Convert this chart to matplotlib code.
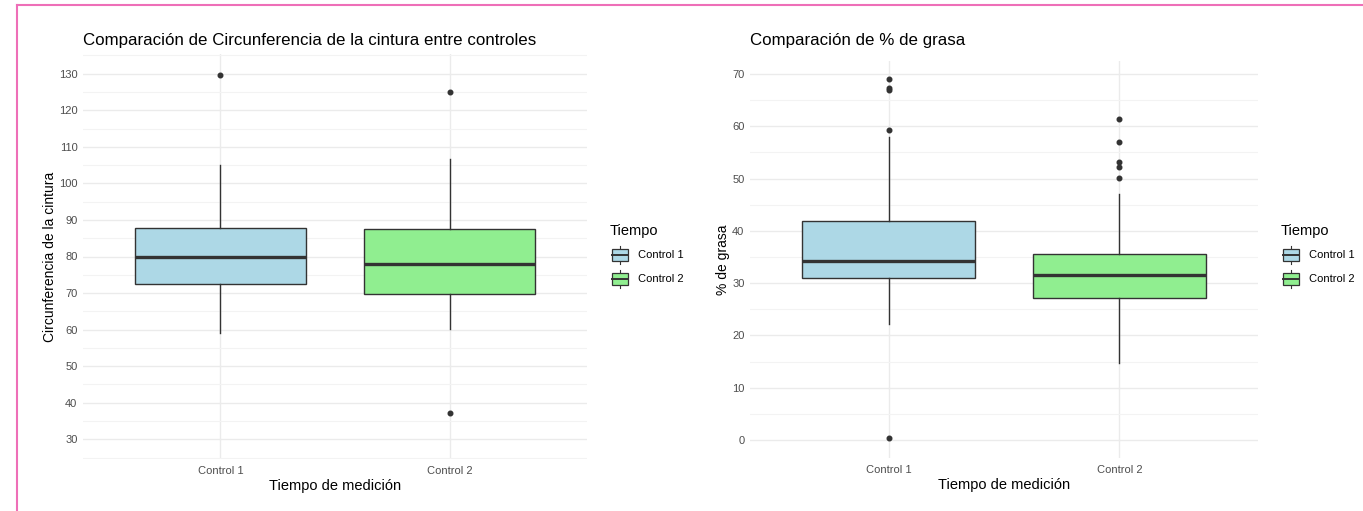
import matplotlib
matplotlib.use("Agg")
import matplotlib.pyplot as plt
from matplotlib.patches import Rectangle
from matplotlib.lines import Line2D

plt.rcParams['font.family'] = ['Liberation Sans', 'DejaVu Sans']

# ---- data -------------------------------------------------------------
groups = ["Control 1", "Control 2"]
fill_colors = ["#ADD8E6", "#90EE90"]

# Circunferencia de la cintura
cintura_q1 = [72.4, 69.8]
cintura_med = [80.0, 78.0]
cintura_q3 = [87.7, 87.5]
cintura_whislo = [59.0, 60.1]
cintura_whishi = [105.1, 106.7]
cintura_outliers = [[129.7], [125.0, 37.3]]

# % de grasa
grasa_q1 = [31.0, 27.1]
grasa_med = [34.3, 31.6]
grasa_q3 = [41.9, 35.5]
grasa_whislo = [22.2, 14.7]
grasa_whishi = [57.9, 47.1]
grasa_outliers = [[69.0, 67.4, 67.0, 59.3, 0.3], [61.4, 57.0, 53.1, 52.3, 50.2]]

W, H = 1363, 511
fig = plt.figure(figsize=(W / 100, H / 100), dpi=100)
fig.patch.set_facecolor("white")

EDGE = "#333333"
GRID = "#EBEBEB"
TICK = "#4D4D4D"


def px_axes(x0, y0, x1, y1):
    return fig.add_axes([x0 / W, 1 - y1 / H, (x1 - x0) / W, (y1 - y0) / H])


def draw_panel(ax, q1, med, q3, lo, hi, outl, ylim, yticks, minor, ylabel):
    stats = []
    for i in range(len(groups)):
        stats.append(dict(med=med[i], q1=q1[i], q3=q3[i],
                          whislo=lo[i], whishi=hi[i], fliers=outl[i]))
    bp = ax.bxp(stats, positions=[1, 2], widths=0.75, patch_artist=True,
                showcaps=False,
                boxprops=dict(edgecolor=EDGE, linewidth=1.0),
                whiskerprops=dict(color=EDGE, linewidth=1.0),
                medianprops=dict(color=EDGE, linewidth=2.4, solid_capstyle="butt"),
                flierprops=dict(marker="o", markerfacecolor=EDGE,
                                markeredgecolor=EDGE, markersize=3.3))
    for patch, c in zip(bp["boxes"], fill_colors):
        patch.set_facecolor(c)
    for k, art in bp.items():
        for a in art:
            a.set_zorder(3)
    ax.set_xlim(0.4, 2.6)
    ax.set_ylim(*ylim)
    ax.set_yticks(yticks)
    ax.set_yticks(minor, minor=True)
    ax.set_xticks([1, 2])
    ax.set_xticklabels(groups)
    ax.grid(True, which="major", color=GRID, linewidth=1.0, zorder=0)
    ax.grid(True, which="minor", axis="y", color="#F3F3F3", linewidth=0.8, zorder=0)
    ax.set_axisbelow(True)
    for s in ax.spines.values():
        s.set_visible(False)
    ax.tick_params(axis="both", which="both", length=0, labelsize=8,
                   labelcolor=TICK)
    ax.tick_params(axis="y", pad=4)
    ax.tick_params(axis="x", pad=5)
    ax.set_ylabel(ylabel, fontsize=10, color="black", labelpad=1.5)
    ax.set_xlabel("Tiempo de medición", fontsize=10.5, color="black", labelpad=2)


ax1 = px_axes(83, 54, 587, 459)
draw_panel(ax1, cintura_q1, cintura_med, cintura_q3, cintura_whislo,
           cintura_whishi, cintura_outliers, (24.6, 135.4),
           list(range(30, 131, 10)), list(range(25, 136, 10)),
           "Circunferencia de la cintura")

ax2 = px_axes(750, 61, 1258, 458)
draw_panel(ax2, grasa_q1, grasa_med, grasa_q3, grasa_whislo,
           grasa_whishi, grasa_outliers, (-3.45, 72.5),
           list(range(0, 71, 10)), list(range(5, 71, 10)),
           "% de grasa")

# overlay in pixel coordinates for titles, legends and frame
ov = fig.add_axes([0, 0, 1, 1])
ov.set_xlim(0, W)
ov.set_ylim(H, 0)
ov.axis("off")
ov.patch.set_alpha(0)

ov.text(83, 40, "Comparación de Circunferencia de la cintura entre controles",
        fontsize=12.2, va="center", ha="left")
ov.text(750, 40, "Comparación de % de grasa", fontsize=12.2, va="center", ha="left")


def legend_at(x, y):
    ov.text(x, y, "Tiempo", fontsize=10.5, va="center", ha="left")
    for i, (lab, c) in enumerate(zip(groups, fill_colors)):
        cy = y + 24 + i * 24
        kx = x + 2
        ov.add_line(Line2D([kx + 8, kx + 8], [cy - 9, cy + 9], color=EDGE, lw=0.8))
        ov.add_patch(Rectangle((kx, cy - 6), 16, 12, facecolor=c,
                               edgecolor=EDGE, lw=0.9, zorder=3))
        ov.add_line(Line2D([kx, kx + 16], [cy, cy], color=EDGE, lw=1.4, zorder=4))
        ov.text(kx + 26, cy, lab, fontsize=8, va="center", ha="left")


legend_at(610, 231)
legend_at(1281, 231)

# pink frame on the top and left edges
ov.add_line(Line2D([17, W], [5, 5], color="#EE6FB8", lw=1.5))
ov.add_line(Line2D([17, 17], [5, H], color="#EE6FB8", lw=1.5))

fig.savefig("out.png", dpi=100)
